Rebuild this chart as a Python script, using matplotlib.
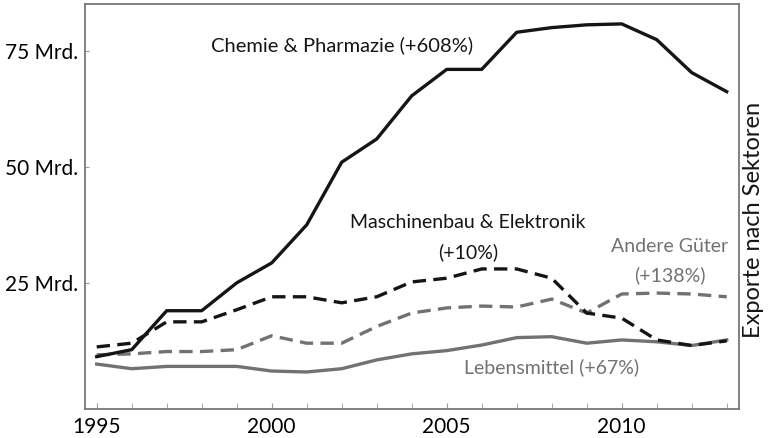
import matplotlib
matplotlib.use("Agg")
import matplotlib.pyplot as plt

years = list(range(1995, 2014))
chemie = [9.1, 10.6, 19.0, 19.0, 25.0, 29.3, 37.5, 51.0, 56.0, 65.3, 71.0, 71.0, 79.0, 80.0, 80.6, 80.8, 77.4, 70.3, 66.2]
maschinen = [11.2, 12.0, 16.6, 16.6, 19.2, 22.0, 22.0, 20.7, 22.0, 25.2, 26.0, 28.0, 28.0, 26.0, 18.5, 17.4, 12.7, 11.5, 12.5]
andere = [9.5, 9.7, 10.2, 10.2, 10.6, 13.6, 12.0, 12.0, 15.6, 18.5, 19.6, 20.0, 19.8, 21.5, 18.5, 22.6, 22.8, 22.6, 22.0]
lebensmittel = [7.5, 6.5, 7.0, 7.0, 7.0, 6.0, 5.8, 6.5, 8.4, 9.7, 10.4, 11.6, 13.2, 13.4, 12.0, 12.7, 12.3, 11.5, 12.7]
ytick_vals = [25, 50, 75]
ytick_labels = ["25 Mrd.", "50 Mrd.", "75 Mrd."]
xtick_vals = [1995, 2000, 2005, 2010]

plt.rcParams['font.family'] = ['Lato', 'DejaVu Sans']

BLACK = "#151515"
GRAY = "#727272"

fig = plt.figure(figsize=(7.71, 4.38), dpi=100)
ax = fig.add_axes([0.110, 0.066, 0.848, 0.925])

ax.plot(years, lebensmittel, color=GRAY, lw=2.4, solid_joinstyle='round')
ax.plot(years, andere, color=GRAY, lw=2.4, dashes=(4, 2.2))
ax.plot(years, maschinen, color=BLACK, lw=2.4, dashes=(4, 2.2))
ax.plot(years, chemie, color=BLACK, lw=2.4, solid_joinstyle='round')

ax.set_xlim(1994.66, 2013.34)
ax.set_ylim(-2.2, 85.1)

ax.set_xticks(xtick_vals)
ax.set_xticks(years, minor=True)
ax.set_yticks(ytick_vals)
ax.set_yticklabels(ytick_labels)
ax.tick_params(axis='x', which='both', direction='in', length=4, color='#999999', labelsize=15, pad=6)
ax.tick_params(axis='y', which='both', direction='in', length=3, color='#999999', labelsize=15, pad=5)
for s in ax.spines.values():
    s.set_color('#777777')
    s.set_linewidth(1.3)

fs = 14
ax.text(2002.0, 76.3, "Chemie & Pharmazie (+608%)", ha='center', va='center', fontsize=14.5, color=BLACK)
ax.text(2005.6, 38.1, "Maschinenbau & Elektronik", ha='center', va='center', fontsize=fs, color=BLACK)
ax.text(2005.6, 31.7, "(+10%)", ha='center', va='center', fontsize=fs, color=BLACK)
ax.text(2011.37, 32.8, "Andere Güter", ha='center', va='center', fontsize=fs, color=GRAY)
ax.text(2011.37, 26.7, "(+138%)", ha='center', va='center', fontsize=fs, color=GRAY)
ax.text(2008.0, 6.9, "Lebensmittel (+67%)", ha='center', va='center', fontsize=fs, color=GRAY)

fig.text(0.977, 0.498, "Exporte nach Sektoren", rotation=90, ha='center', va='center',
         fontsize=17, color=BLACK)

fig.savefig("out.png", dpi=100)
